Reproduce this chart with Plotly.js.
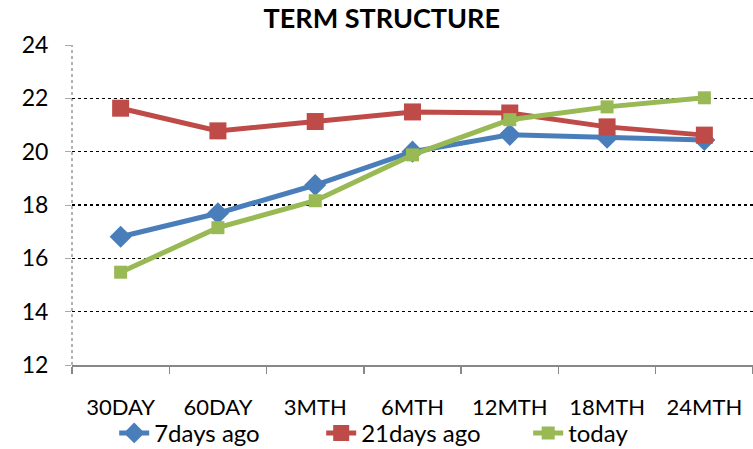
<!DOCTYPE html>
<html>
<head>
<meta charset="utf-8">
<script src="https://cdn.plot.ly/plotly-3.0.1.min.js"></script>
<style>html,body{margin:0;padding:0;background:#fff;}#chart{width:753px;height:449px;}</style>
</head>
<body>
<div id="chart"></div>
<script>
var categories = ["30DAY", "60DAY", "3MTH", "6MTH", "12MTH", "18MTH", "24MTH"];
var days7Ago = [16.81, 17.69, 18.75, 20.0, 20.63, 20.52, 20.44];
var days21Ago = [21.63, 20.78, 21.13, 21.49, 21.45, 20.93, 20.62];
var today = [15.48, 17.15, 18.16, 19.88, 21.2, 21.68, 22.02];
var seriesNames = ["7days ago", "21days ago", "today"];
var yTicks = [12, 14, 16, 18, 20, 22, 24];

var FONT = "Lato, 'DejaVu Sans Condensed', sans-serif";

var traces = [
  {x: categories, y: days7Ago, name: seriesNames[0], type: "scatter", mode: "lines+markers",
   line: {color: "#4A7EBB", width: 5}, marker: {symbol: "diamond", size: 17, color: "#4A7EBB"}},
  {x: categories, y: days21Ago, name: seriesNames[1], type: "scatter", mode: "lines+markers",
   line: {color: "#BE4B48", width: 5}, marker: {symbol: "square", size: 17, color: "#BE4B48"}},
  {x: categories, y: today, name: seriesNames[2], type: "scatter", mode: "lines+markers",
   line: {color: "#98B954", width: 5}, marker: {symbol: "square", size: 13, color: "#98B954"}}
];

var layout = {
  width: 753, height: 449,
  margin: {l: 72, r: 0, t: 45, b: 84, pad: 0, autoexpand: false},
  paper_bgcolor: "#fff", plot_bgcolor: "#fff",
  font: {family: FONT, size: 22, color: "#000"},
  title: {text: "<b>TERM STRUCTURE</b>", font: {family: FONT, size: 27, color: "#000"},
          x: 0.507, xref: "container", xanchor: "center", y: 0.958, yref: "container", yanchor: "middle"},
  xaxis: {type: "category", range: [-0.5, 6.5], showgrid: false, zeroline: false,
          showline: true, linecolor: "#888888", linewidth: 1.5,
          ticks: "outside", tickson: "boundaries", ticklen: 7, tickcolor: "#888888", tickwidth: 1.5,
          ticklabelstandoff: 22, tickfont: {family: FONT, size: 22, color: "#000"}},
  yaxis: {range: [12, 24], tickvals: yTicks, ticktext: yTicks.map(String),
          showgrid: true, gridcolor: "#000", gridwidth: 1.2, griddash: "dot",
          zeroline: false, showline: false,
          ticks: "outside", ticklen: 6, tickcolor: "#aaaaaa", tickwidth: 1,
          ticklabelstandoff: 12, tickfont: {family: FONT, size: 23, color: "#000"}},
  shapes: [{type: "line", xref: "paper", yref: "paper", x0: 0, x1: 0, y0: 0, y1: 1,
            line: {color: "#999999", width: 1.5, dash: "dot"}, layer: "below"}],
  legend: {orientation: "h", x: 0.564, xref: "container", xanchor: "center",
           y: 0.035, yref: "container", yanchor: "middle",
           entrywidth: 162, entrywidthmode: "pixels",
           font: {family: FONT, size: 24, color: "#000"}, tracegroupgap: 0,
           bgcolor: "rgba(0,0,0,0)"},
  showlegend: true
};

Plotly.newPlot("chart", traces, layout, {displayModeBar: false, staticPlot: true});
</script>
</body>
</html>
